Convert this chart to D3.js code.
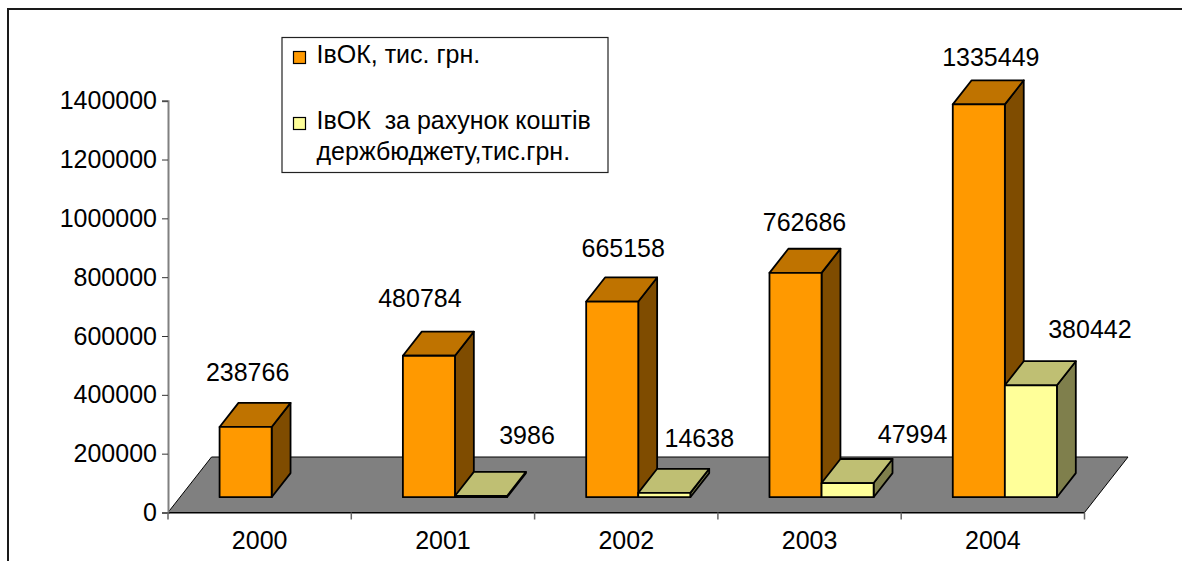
<!DOCTYPE html>
<html>
<head>
<meta charset="utf-8">
<script src="https://cdn.jsdelivr.net/npm/d3@7"></script>
<style>
  html, body { margin: 0; padding: 0; background: #fff; }
  svg { display: block; font-family: "Liberation Sans", Arial, sans-serif; }
</style>
</head>
<body>
<svg id="chart" width="1182" height="561"></svg>
<script>
// ---- data ----
const years = ["2000", "2001", "2002", "2003", "2004"];
const totalInvest = [238766, 480784, 665158, 762686, 1335449];      // ІвОК, тис. грн.
const budgetInvest = [null, 3986, 14638, 47994, 380442];             // за рахунок коштів держбюджету
const yTicks = [0, 200000, 400000, 600000, 800000, 1000000, 1200000, 1400000];
const seriesNames = ["ІвОК, тис. грн.", "ІвОК  за рахунок коштів", "держбюджету,тис.грн."];

// ---- layout ----
const W = 1182, H = 561;
const plot = { left: 168, right: 1084.5, bottom: 512.5, top: 100.7 };
const depth = { dx: 43.5, dy: -55.5 };      // projected floor depth vector
const barZ0 = 0.276, barZ1 = 0.71;          // bar front / back as fraction of floor depth
const fontSize = 25;

// label shift from the top‑front centre of each bar [dx, dy]
const labelShiftA = [[2, -46], [-9, -49], [11, -45], [9, -42], [12, -38]];
const labelShiftB = [null, [46, -52], [35, -46], [65, -40], [59, -47]];

const svg = d3.select("#chart");

const x = d3.scaleBand().domain(years).range([plot.left, plot.right]).paddingInner(0).paddingOuter(0);
const y = d3.scaleLinear().domain([0, 1400000]).range([plot.bottom, plot.top]);

// inner band for the two bars of a category (gap 150% of bar width)
const xb = d3.scaleBand().domain([0, 1]).range([0, x.bandwidth()]).paddingOuter(0.76).paddingInner(0);

// projection: front-plane x, value, depth fraction -> screen
const P = (px, v, z) => [px + z * depth.dx, y(v) + z * depth.dy];

// chart frame (top and left edges)
svg.append("path")
  .attr("d", `M8,${H} L8,9 L${W},9`)
  .attr("fill", "none").attr("stroke", "#1a1a1a").attr("stroke-width", 2);

// floor
const floorPts = [P(plot.left, 0, 0), P(plot.right, 0, 0), P(plot.right, 0, 1), P(plot.left, 0, 1)];
svg.append("polygon")
  .attr("points", floorPts.map(p => p.join(",")).join(" "))
  .attr("fill", "#808080").attr("stroke", "#000").attr("stroke-width", 1);

// value axis
const yAxis = d3.axisLeft(y).tickValues(yTicks).tickSize(6).tickPadding(5).tickFormat(d3.format("d"));
const gy = svg.append("g").attr("transform", `translate(${plot.left},0)`).call(yAxis);
gy.select(".domain").attr("stroke", "#808080").attr("stroke-width", 2);
gy.selectAll(".tick line").attr("stroke", "#333");
gy.selectAll(".tick text").attr("font-size", fontSize).attr("fill", "#000")
  .attr("font-family", "Liberation Sans, Arial, sans-serif");

// category axis
const xAxis = d3.axisBottom(x).tickSize(0).tickPadding(0);
const gx = svg.append("g").attr("transform", `translate(0,${plot.bottom})`).call(xAxis);
gx.select(".domain").attr("stroke", "#000").attr("stroke-width", 1);
gx.selectAll(".tick text").attr("font-size", fontSize).attr("fill", "#000")
  .attr("font-family", "Liberation Sans, Arial, sans-serif")
  .attr("dy", 0).attr("y", 36);
// category separators
svg.append("g").selectAll("line")
  .data(years.concat(["end"]))
  .join("line")
  .attr("x1", (d, i) => i < years.length ? x(d) : plot.right)
  .attr("x2", (d, i) => i < years.length ? x(d) : plot.right)
  .attr("y1", plot.bottom).attr("y2", plot.bottom + 7)
  .attr("stroke", "#666").attr("stroke-width", 1.5);

// 3D bars
const palettes = [
  { front: "#FF9900", top: "#BF7300", side: "#7F4C00" },
  { front: "#FFFF99", top: "#BFBF73", side: "#7F7F4C" }
];
const series = [totalInvest, budgetInvest];
const shifts = [labelShiftA, labelShiftB];

const bars = [];
years.forEach((yr, i) => {
  series.forEach((vals, s) => {
    if (vals[i] == null) return;
    bars.push({ yr, i, s, v: vals[i] });
  });
});

const gBars = svg.append("g");
bars.forEach(b => {
  const x0 = x(b.yr) + xb(b.s), x1 = x0 + xb.bandwidth();
  const pal = palettes[b.s];
  const poly = pts => pts.map(p => p.join(",")).join(" ");
  const g = gBars.append("g").attr("stroke", "#000").attr("stroke-width", 1.8).attr("stroke-linejoin", "round");
  // side face
  g.append("polygon").attr("fill", pal.side)
    .attr("points", poly([P(x1, 0, barZ0), P(x1, 0, barZ1), P(x1, b.v, barZ1), P(x1, b.v, barZ0)]));
  // top face
  g.append("polygon").attr("fill", pal.top)
    .attr("points", poly([P(x0, b.v, barZ0), P(x1, b.v, barZ0), P(x1, b.v, barZ1), P(x0, b.v, barZ1)]));
  // front face
  g.append("polygon").attr("fill", pal.front)
    .attr("points", poly([P(x0, 0, barZ0), P(x1, 0, barZ0), P(x1, b.v, barZ0), P(x0, b.v, barZ0)]));
});

// value labels
const gLab = svg.append("g").attr("font-size", fontSize).attr("text-anchor", "middle").attr("fill", "#000");
bars.forEach(b => {
  const x0 = x(b.yr) + xb(b.s);
  const [fx, fy] = P(x0 + xb.bandwidth() / 2, b.v, barZ0);
  const sh = shifts[b.s][b.i];
  gLab.append("text").attr("x", fx + sh[0]).attr("y", fy + sh[1]).text(b.v);
});

// legend
const lg = svg.append("g").attr("transform", "translate(282,37.5)");
lg.append("rect").attr("width", 326).attr("height", 135)
  .attr("fill", "#fff").attr("stroke", "#222").attr("stroke-width", 1.2);
const legendItems = [
  { color: palettes[0].front, lines: [seriesNames[0]], y: 25 },
  { color: palettes[1].front, lines: [seriesNames[1], seriesNames[2]], y: 91 }
];
legendItems.forEach(it => {
  lg.append("rect").attr("x", 11.5).attr("y", it.y - 11).attr("width", 12).attr("height", 12)
    .attr("fill", it.color).attr("stroke", "#000").attr("stroke-width", 1.2);
  it.lines.forEach((t, k) => {
    lg.append("text").attr("x", 34.5).attr("y", it.y + k * 31.7)
      .attr("font-size", fontSize).attr("fill", "#000")
      .style("white-space", "pre").text(t);
  });
});
</script>
</body>
</html>
